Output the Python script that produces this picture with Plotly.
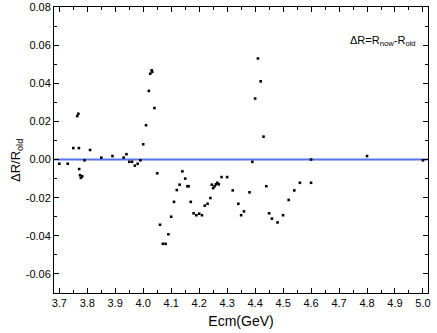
import plotly.graph_objects as go

ecm = [3.700, 3.730, 3.750, 3.764, 3.768, 3.770, 3.771, 3.774, 3.777, 3.782,
       3.790, 3.810, 3.850, 3.890, 3.930, 3.940, 3.950, 3.960, 3.970, 3.980,
       3.990, 4.000, 4.010, 4.020, 4.025, 4.030, 4.032, 4.040, 4.050, 4.060,
       4.070, 4.080, 4.090, 4.100, 4.110, 4.120, 4.130, 4.140, 4.150, 4.158,
       4.162, 4.170, 4.180, 4.190, 4.200, 4.210, 4.220, 4.230, 4.240, 4.245,
       4.250, 4.255, 4.260, 4.265, 4.270, 4.280, 4.300, 4.320, 4.340, 4.350,
       4.360, 4.380, 4.390, 4.400, 4.410, 4.420, 4.430, 4.440, 4.450, 4.460,
       4.480, 4.500, 4.520, 4.540, 4.560, 4.600, 4.600, 4.800, 5.000]
dr = [-0.0022, -0.0022, 0.0060, 0.0228, 0.0240, 0.0060, -0.0050, -0.0082, -0.0096, -0.0088,
      -0.0004, 0.0050, 0.0010, 0.0018, 0.0010, 0.0028, -0.0012, -0.0012, -0.0032, -0.0022,
      -0.0004, 0.0080, 0.0180, 0.0360, 0.0450, 0.0468, 0.0460, 0.0270, -0.0072, -0.0342,
      -0.0442, -0.0442, -0.0392, -0.0300, -0.0222, -0.0160, -0.0132, -0.0062, -0.0100, -0.0140,
      -0.0140, -0.0222, -0.0282, -0.0292, -0.0284, -0.0292, -0.0242, -0.0232, -0.0202, -0.0132,
      -0.0150, -0.0140, -0.0130, -0.0122, -0.0130, -0.0092, -0.0092, -0.0162, -0.0232, -0.0292,
      -0.0272, -0.0172, -0.0012, 0.0320, 0.0530, 0.0410, 0.0120, -0.0140, -0.0282, -0.0310,
      -0.0330, -0.0292, -0.0212, -0.0162, -0.0122, -0.0122, 0.0000, 0.0018, -0.0004]

x_ticks = [3.7, 3.8, 3.9, 4.0, 4.1, 4.2, 4.3, 4.4, 4.5, 4.6, 4.7, 4.8, 4.9, 5.0]
y_ticks = [-0.06, -0.04, -0.02, 0.00, 0.02, 0.04, 0.06, 0.08]

font_family = "Liberation Sans, Arial, sans-serif"

fig = go.Figure()
fig.add_trace(go.Scatter(
    x=ecm, y=dr, mode="markers",
    marker=dict(symbol="square", size=2.6, color="black", line=dict(width=0)),
    showlegend=False, cliponaxis=False,
))

fig.add_hline(y=0, line=dict(color="rgb(85,115,235)", width=2), layer="below")

axis_common = dict(
    showgrid=False, zeroline=False, showline=True, linecolor="black", linewidth=1,
    mirror="allticks", ticks="inside", ticklen=5, tickwidth=1, tickcolor="black",
    tickfont=dict(family=font_family, size=11, color="black"),
    automargin=False,
)

fig.update_xaxes(
    range=[3.681, 5.018], tickvals=x_ticks, ticktext=[f"{v:.1f}" for v in x_ticks],
    minor=dict(dtick=0.05, tick0=3.7, ticks="inside", ticklen=3, tickcolor="black"),
    title=dict(text="Ecm(GeV)", font=dict(family=font_family, size=14, color="black"), standoff=7),
    **axis_common,
)
fig.update_yaxes(
    range=[-0.07, 0.08], tickvals=y_ticks, ticktext=[f"{v:.2f}" for v in y_ticks],
    minor=dict(dtick=0.01, tick0=0, ticks="inside", ticklen=3, tickcolor="black"),
    **axis_common,
)

fig.add_annotation(
    x=-0.1016, y=0.4615, xref="paper", yref="paper", xanchor="center", yanchor="middle",
    text="ΔR/R<sub>old</sub>", textangle=-90, showarrow=False,
    font=dict(family=font_family, size=13, color="black"),
)

fig.add_annotation(
    x=0.973, y=0.88, xref="paper", yref="paper", xanchor="right", yanchor="middle",
    text="ΔR=R<sub>now</sub>-R<sub>old</sub>", showarrow=False,
    font=dict(family=font_family, size=11, color="black"),
)

fig.update_layout(
    width=437, height=333,
    margin=dict(l=54, r=9, t=7, b=40),
    paper_bgcolor="white", plot_bgcolor="white",
)

fig.write_html("out.html", config={"displayModeBar": False},
               post_script="document.body.style.margin='0';document.body.style.overflow='hidden';")
